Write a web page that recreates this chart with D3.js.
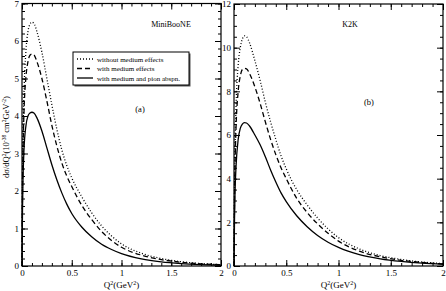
<!DOCTYPE html>
<html lang="en">
<head>
<meta charset="UTF-8">
<script src="https://d3js.org/d3.v7.min.js"></script>
<style>
  body { margin: 0; background: #fff; }
  text { font-family: "Liberation Serif", "DejaVu Serif", serif; fill: #000; }
</style>
</head>
<body>
<div id="chart"></div>
<script>
// Q^2 sample points (GeV^2)
var q2 = [0, 0.005, 0.01, 0.02, 0.04, 0.06, 0.08, 0.1, 0.12, 0.15, 0.2, 0.25, 0.3, 0.35, 0.4, 0.45, 0.5,
          0.6, 0.7, 0.8, 0.9, 1.0, 1.2, 1.4, 1.6, 1.8, 2.0];

// MiniBooNE (a)
var mbFree   = [0, 2.3, 3.4, 4.6, 5.75, 6.25, 6.45, 6.5, 6.47, 6.25, 5.7, 5.0, 4.3, 3.65, 3.1, 2.68, 2.35,
                1.85, 1.42, 1.07, 0.8, 0.59, 0.34, 0.2, 0.115, 0.065, 0.035];
var mbMedium = [0, 2.0, 3.0, 4.1, 5.05, 5.45, 5.62, 5.65, 5.63, 5.45, 5.0, 4.4, 3.75, 3.2, 2.75, 2.4, 2.12,
                1.62, 1.24, 0.92, 0.68, 0.5, 0.29, 0.17, 0.1, 0.058, 0.033];
var mbPion   = [0, 1.5, 2.3, 3.1, 3.75, 4.0, 4.08, 4.1, 4.08, 3.95, 3.6, 3.15, 2.7, 2.3, 1.95, 1.65, 1.4,
                1.04, 0.78, 0.58, 0.44, 0.33, 0.19, 0.11, 0.065, 0.038, 0.02];

// K2K (b)
var k2kFree   = [0, 3.5, 5.3, 7.4, 9.2, 10.0, 10.4, 10.54, 10.5, 10.2, 9.4, 8.5, 7.5, 6.6, 5.8, 5.05, 4.45,
                 3.5, 2.8, 2.2, 1.7, 1.3, 0.78, 0.48, 0.3, 0.18, 0.11];
var k2kMedium = [0, 3.0, 4.6, 6.4, 8.0, 8.7, 9.0, 9.05, 9.03, 8.8, 8.2, 7.45, 6.6, 5.8, 5.1, 4.5, 4.0,
                 3.1, 2.45, 1.93, 1.5, 1.14, 0.68, 0.42, 0.26, 0.16, 0.1];
var k2kPion   = [0, 2.2, 3.4, 4.6, 5.8, 6.3, 6.5, 6.57, 6.55, 6.4, 6.0, 5.55, 5.0, 4.4, 3.85, 3.35, 2.95,
                 2.3, 1.8, 1.4, 1.09, 0.85, 0.52, 0.33, 0.21, 0.13, 0.08];

var seriesNames = ["without medium effects", "with medium effects", "with medium and pion abspn."];
var dashes = ["1,2", "5,3", null];

var xTicks = [0, 0.5, 1, 1.5, 2];
var xTickLabels = ["0", "0.5", "1", "1.5", "2"];
var mbYTicks = [0, 1, 2, 3, 4, 5, 6, 7];
var k2kYTicks = [0, 2, 4, 6, 8, 10, 12];

var svg = d3.select("#chart").append("svg")
    .attr("width", 446).attr("height", 291);

function panel(opt) {
    var x = d3.scaleLinear().domain([0, 2]).range([opt.left, opt.right]);
    var y = d3.scaleLinear().domain([0, opt.ymax]).range([266, opt.top]);
    var g = svg.append("g");

    // minor + major ticks on all four sides, pointing inward
    var xMinor = d3.range(0, 2.0001, 0.1);
    var yMinor = d3.range(0, opt.ymax + 0.0001, opt.yminor);
    g.append("g").attr("transform", "translate(0,266)")
        .call(d3.axisBottom(x).tickValues(xMinor).tickSize(-3).tickFormat(""));
    g.append("g").attr("transform", "translate(0," + opt.top + ")")
        .call(d3.axisTop(x).tickValues(xMinor).tickSize(-3).tickFormat(""));
    g.append("g").attr("transform", "translate(" + opt.left + ",0)")
        .call(d3.axisLeft(y).tickValues(yMinor).tickSize(-3).tickFormat(""));
    g.append("g").attr("transform", "translate(" + opt.right + ",0)")
        .call(d3.axisRight(y).tickValues(yMinor).tickSize(-3).tickFormat(""));

    g.append("g").attr("class", "ax").attr("transform", "translate(0,266)")
        .call(d3.axisBottom(x).tickValues(xTicks).tickSize(-6).tickPadding(4)
              .tickFormat(function (d, i) { return xTickLabels[i]; }));
    g.append("g").attr("transform", "translate(0," + opt.top + ")")
        .call(d3.axisTop(x).tickValues(xTicks).tickSize(-6).tickFormat(""));
    g.append("g").attr("class", "ax").attr("transform", "translate(" + opt.left + ",0)")
        .call(d3.axisLeft(y).tickValues(opt.yticks).tickSize(-6).tickPadding(3).tickFormat(d3.format("d")));
    g.append("g").attr("transform", "translate(" + opt.right + ",0)")
        .call(d3.axisRight(y).tickValues(opt.yticks).tickSize(-6).tickFormat(""));

    g.selectAll(".domain").remove();
    g.selectAll(".tick line").attr("stroke", "#000").attr("stroke-width", 1);
    g.selectAll(".ax text").style("font-family", "Liberation Serif, serif").style("font-size", "9px")
        .attr("fill", "#222");

    g.append("rect")
        .attr("x", opt.left).attr("y", opt.top)
        .attr("width", opt.right - opt.left).attr("height", 266 - opt.top)
        .attr("fill", "none").attr("stroke", "#000").attr("stroke-width", 1.2);

    var line = d3.line()
        .x(function (d) { return x(d[0]); })
        .y(function (d) { return y(d[1]); })
        .curve(d3.curveMonotoneX);

    opt.series.forEach(function (vals, i) {
        g.append("path")
            .datum(q2.map(function (q, j) { return [q, vals[j]]; }))
            .attr("d", line)
            .attr("fill", "none")
            .attr("stroke", "#000")
            .attr("stroke-width", 1.3)
            .attr("stroke-dasharray", dashes[i]);
    });

    g.append("text").attr("x", opt.nameX).attr("y", 27)
        .attr("text-anchor", "middle").style("font-size", "8px").text(opt.name);
    g.append("text").attr("x", opt.tagX).attr("y", opt.tagY)
        .attr("text-anchor", "middle").style("font-size", "8.5px").text(opt.tag);

    var xl = g.append("text").attr("x", (opt.left + opt.right) / 2).attr("y", 288)
        .attr("text-anchor", "middle").style("font-size", "9px");
    xl.append("tspan").text("Q");
    xl.append("tspan").attr("dy", -3.5).style("font-size", "6px").text("2");
    xl.append("tspan").attr("dy", 3.5).text("(GeV");
    xl.append("tspan").attr("dy", -3.5).style("font-size", "6px").text("2");
    xl.append("tspan").attr("dy", 3.5).text(")");
    return g;
}

panel({ left: 22, right: 221, top: 3.5, ymax: 7, yminor: 0.2, yticks: mbYTicks,
        series: [mbFree, mbMedium, mbPion], name: "MiniBooNE", nameX: 171,
        tag: "(a)", tagX: 140, tagY: 112 });
panel({ left: 234, right: 443, top: 4, ymax: 12, yminor: 0.5, yticks: k2kYTicks,
        series: [k2kFree, k2kMedium, k2kPion], name: "K2K", nameX: 350,
        tag: "(b)", tagX: 369, tagY: 105 });

// y axis title
var yl = svg.append("text")
    .attr("transform", "translate(9,137) rotate(-90)")
    .attr("text-anchor", "middle").style("font-size", "8.5px");
yl.append("tspan").text("d\u03c3/dQ");
yl.append("tspan").attr("dy", -3.5).style("font-size", "5.5px").text("2");
yl.append("tspan").attr("dy", 3.5).text("(10");
yl.append("tspan").attr("dy", -3.5).style("font-size", "5.5px").text("-38");
yl.append("tspan").attr("dy", 3.5).text(" cm");
yl.append("tspan").attr("dy", -3.5).style("font-size", "5.5px").text("2");
yl.append("tspan").attr("dy", 3.5).text("GeV");
yl.append("tspan").attr("dy", -3.5).style("font-size", "5.5px").text("-2");
yl.append("tspan").attr("dy", 3.5).text(")");

// legend
var leg = svg.append("g").attr("transform", "translate(73,52)");
leg.append("rect").attr("x", 1.5).attr("y", 1.5).attr("width", 116).attr("height", 33).attr("fill", "#555");
leg.append("rect").attr("x", 0).attr("y", 0).attr("width", 116).attr("height", 33)
    .attr("fill", "#fff").attr("stroke", "#000").attr("stroke-width", 1);
seriesNames.forEach(function (name, i) {
    var yy = 7 + i * 9.5;
    leg.append("line").attr("x1", 4).attr("x2", 20).attr("y1", yy).attr("y2", yy)
        .attr("stroke", "#000").attr("stroke-width", 1.3).attr("stroke-dasharray", dashes[i]);
    leg.append("text").attr("x", 24).attr("y", yy + 2.5).style("font-size", "7px").text(name);
});
</script>
</body>
</html>
